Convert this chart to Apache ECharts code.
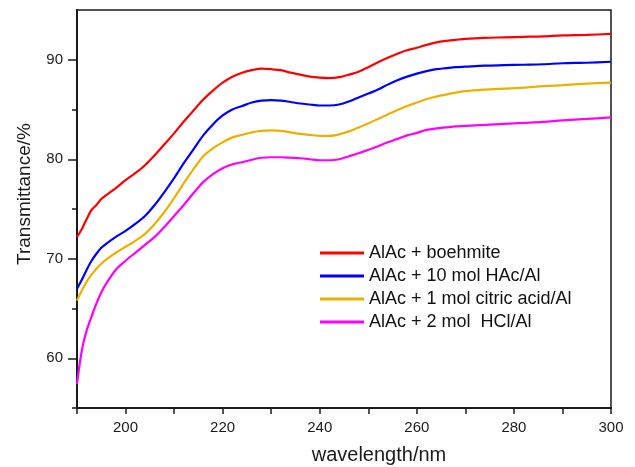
<!DOCTYPE html>
<html>
<head>
<meta charset="utf-8">
<script src="https://cdn.jsdelivr.net/npm/echarts@6/dist/echarts.min.js"></script>
<style>
html,body{margin:0;padding:0;background:#fff;}
#c{width:635px;height:467px;}
</style>
</head>
<body>
<div id="c"></div>
<script>
const wavelength = [190,191,192,193,194,195,196,198,200,202,204,206,208,210,212,214,216,218,220,222,224,226,228,230,232,234,236,238,240,242,244,246,248,250,252,254,256,258,260,262,264,266,268,270,274,278,282,286,290,295,300];

const boehmite = [72.2,73.0,74.0,74.9,75.4,76.0,76.4,77.1,77.9,78.6,79.4,80.4,81.5,82.6,83.8,84.9,86.0,86.9,87.7,88.3,88.7,88.95,89.1,89.05,88.95,88.7,88.5,88.3,88.2,88.15,88.25,88.5,88.8,89.25,89.75,90.2,90.6,90.95,91.2,91.5,91.75,91.9,92.0,92.1,92.2,92.25,92.3,92.35,92.45,92.5,92.6];

const hac = [67.0,67.9,68.9,69.8,70.5,71.1,71.5,72.2,72.8,73.5,74.3,75.4,76.7,78.1,79.6,81.0,82.4,83.5,84.4,85.0,85.35,85.7,85.9,85.95,85.9,85.75,85.6,85.5,85.4,85.4,85.5,85.8,86.2,86.6,87.0,87.5,87.95,88.3,88.6,88.85,89.05,89.15,89.25,89.3,89.4,89.45,89.5,89.55,89.65,89.7,89.8];

const citric = [65.8,66.8,67.7,68.4,69.0,69.5,69.9,70.6,71.2,71.8,72.5,73.5,74.7,76.1,77.6,79.0,80.3,81.1,81.7,82.2,82.45,82.7,82.85,82.9,82.85,82.7,82.55,82.45,82.35,82.35,82.5,82.8,83.2,83.6,84.05,84.5,84.95,85.35,85.7,86.05,86.3,86.5,86.7,86.85,87.0,87.1,87.2,87.35,87.45,87.6,87.7];

const hcl = [57.4,60.8,62.8,64.2,65.5,66.6,67.5,68.9,69.8,70.6,71.4,72.2,73.2,74.3,75.4,76.6,77.7,78.5,79.1,79.5,79.7,79.95,80.15,80.2,80.2,80.15,80.1,80.0,79.9,79.9,80.0,80.3,80.6,80.95,81.3,81.7,82.05,82.4,82.65,82.95,83.1,83.2,83.3,83.35,83.45,83.55,83.65,83.75,83.9,84.05,84.2];

const seriesNames = ['AlAc + boehmite','AlAc + 10 mol HAc/Al','AlAc + 1 mol citric acid/Al','AlAc + 2 mol  HCl/Al'];
const seriesColors = ['#ff0000','#0000ff','#eeb000','#ff00ff'];
const seriesValues = [boehmite, hac, citric, hcl];

const xTickLabels = [200,220,240,260,280,300];
const yTickLabels = [60,70,80,90];
const yMinorTicks = [55,65,75,85];

const FONT = '"Liberation Sans", Arial, sans-serif';
const AX = '#1a1a1a';

const chart = echarts.init(document.getElementById('c'), null, {renderer:'canvas'});

const series = seriesValues.map((vals, i) => ({
  name: seriesNames[i],
  type: 'line',
  yAxisIndex: 0,
  data: wavelength.map((w, j) => [w, vals[j]]),
  showSymbol: false,
  symbol: 'none',
  smooth: 0.3,
  lineStyle: {color: seriesColors[i], width: 2.2},
  itemStyle: {color: seriesColors[i]},
  animation: false
}));

chart.setOption({
  animation: false,
  backgroundColor: '#fff',
  grid: {left: 77, top: 10, right: 24, bottom: 59, show: true, borderColor: AX, borderWidth: 1.5, containLabel: false, outerBoundsMode: 'none'},
  legend: {
    orient: 'vertical', left: 315, top: 239,
    itemWidth: 44, itemHeight: 3, itemGap: 5,
    textStyle: {fontFamily: FONT, fontSize: 18, color: '#111', lineHeight: 18},
    data: seriesNames.map((n,i) => ({name: n, icon: 'rect', itemStyle:{color: seriesColors[i]}}))
  },
  xAxis: {
    type: 'value', min: 190, max: 300, interval: 10,
    axisLine: {show: true, onZero: false, lineStyle: {color: AX, width: 2}},
    axisTick: {show: true, inside: false, length: 6, lineStyle: {color: AX, width: 1.5}},
    axisLabel: {margin: 12, fontFamily: FONT, fontSize: 15, color: '#1a1a1a',
      formatter: v => (xTickLabels.indexOf(v) >= 0 ? String(v) : '')},
    splitLine: {show: false}
  },
  yAxis: [{
    type: 'value', min: 55, max: 95, interval: 5,
    axisLine: {show: true, onZero: false, lineStyle: {color: AX, width: 2}},
    axisTick: {show: true, inside: false, length: 5, customValues: yMinorTicks, lineStyle: {color: AX, width: 1.5}},
    axisLabel: {margin: 14, fontFamily: FONT, fontSize: 15, color: '#1a1a1a',
      formatter: v => (yTickLabels.indexOf(v) >= 0 ? String(v) : '')},
    splitLine: {show: false}
  },{
    type: 'value', min: 55, max: 95, interval: 5, position: 'left',
    axisLine: {show: false},
    axisTick: {show: true, inside: false, length: 9, customValues: yTickLabels, lineStyle: {color: AX, width: 1.5}},
    axisLabel: {show: false},
    splitLine: {show: false}
  }],
  graphic: [
    {type: 'text', x: 25, y: 194, rotation: Math.PI/2,
     style: {text: 'Transmittance/%', font: '19px ' + FONT, fill: '#1a1a1a', align: 'center', verticalAlign: 'middle'}},
    {type: 'text', x: 379, y: 455,
     style: {text: 'wavelength/nm', font: '20px ' + FONT, fill: '#1a1a1a', align: 'center', verticalAlign: 'middle'}}
  ],
  series: series
});
</script>
</body>
</html>
